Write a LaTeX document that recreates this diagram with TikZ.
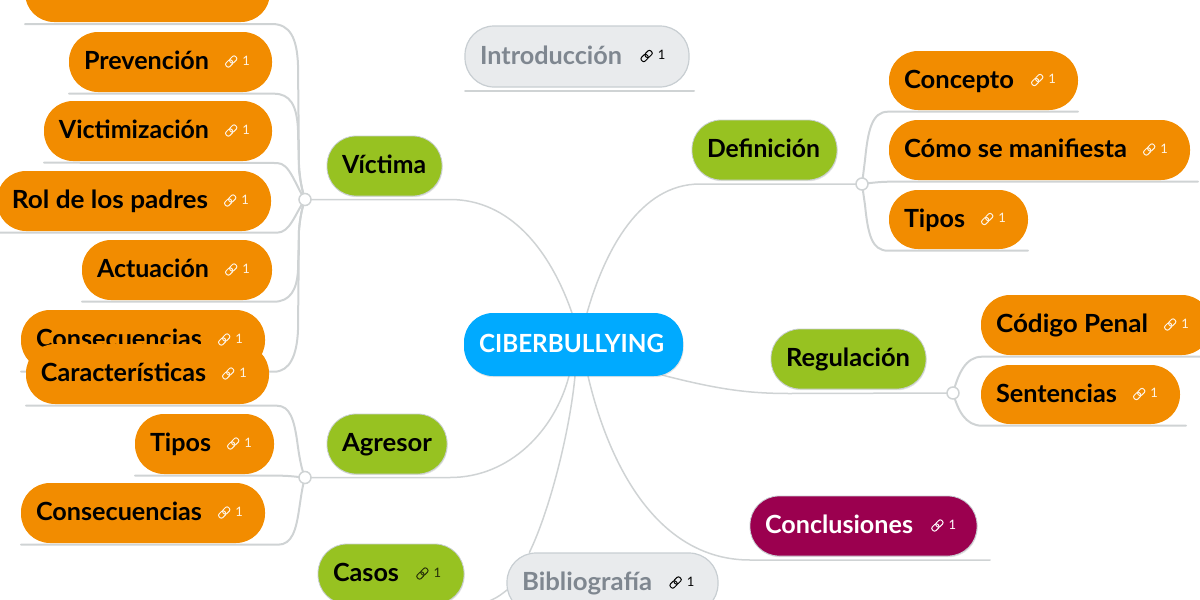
\documentclass[tikz,border=0pt]{standalone}
\usepackage{fontspec}
\usepackage{graphicx}
\setmainfont{Lato}
\usetikzlibrary{backgrounds,calc,shadows}
\definecolor{cOrange}{HTML}{F28C00}
\definecolor{cGreen}{HTML}{97C221}
\definecolor{cMaroon}{HTML}{9B004F}
\definecolor{cBlue}{HTML}{00AAFF}
\definecolor{cGrey}{HTML}{E9EBED}
\definecolor{cGreyText}{HTML}{7F8790}
\definecolor{cLine}{HTML}{CFD3D4}
\definecolor{cEdge}{HTML}{C8CED2}
\tikzset{
  x=1pt,y=-1pt,
  softshadow/.style={drop shadow={opacity=.22,shadow xshift=0.6pt,shadow yshift=-1.2pt}},
  pill/.style={rectangle,rounded corners=29pt,inner sep=0pt,font=\fontsize{25}{28}\selectfont\bfseries},
  orange/.style={pill,fill=cOrange,text=black},
  green/.style={pill,softshadow,fill=cGreen,text=black,draw=cEdge,line width=.8pt},
  maroon/.style={pill,softshadow,fill=cMaroon,text=white,draw=cEdge,line width=.8pt},
  blue/.style={pill,softshadow,fill=cBlue,text=white},
  grey/.style={pill,fill=cGrey,text=cGreyText,draw=cEdge,line width=1.2pt},
  conn/.style={draw=cLine,line width=2pt,line cap=round,line join=round},
  trunk/.style={conn,line width=1.5pt},
  hub/.style={circle,fill=white,draw=cLine,line width=1.5pt,minimum size=12pt,inner sep=0pt},
  linkglyph/.style={line width=1pt,rounded corners=2pt},
  count/.style={inner sep=0pt,font=\fontsize{13}{15}\selectfont},
}
% name, x0, y0, x1, y1, style, text width, text
\newcommand{\pillnode}[8]{%
  \pgfmathsetmacro{\pw}{#4-(#2)}\pgfmathsetmacro{\ph}{#5-(#3)}%
  \pgfmathsetmacro{\cx}{(#2+#4)/2}\pgfmathsetmacro{\cy}{(#3+#5)/2}%
  \pgfmathsetmacro{\tw}{\pw-30}%
  \node[#6,minimum width=\pw pt,minimum height=\ph pt] (#1) at (\cx,\cy)
    {\makebox[\tw pt][l]{\rule[-7pt]{0pt}{24pt}\smash{\raisebox{-2.7pt}{\resizebox{#7pt}{\height}{#8}}}}};%
  \coordinate (#1-a) at (#2,#5+1.7);%
  \coordinate (#1-b) at (#4,#5+1.7);%
}
% pill name, colour, offset of the mark from the pill's right edge
\newcommand{\linkmark}[3]{%
  \begin{scope}[shift={($(#1.east)+(#3,-0.5)$)}]
    \begin{scope}[rotate=45]
      \draw[linkglyph,draw=#2] (-6.6,-2.6) rectangle (1,2.6);
      \draw[linkglyph,draw=#2] (-1,-2.6) rectangle (6.6,2.6);
    \end{scope}
    \node[count,text=#2] at (15,-1) {1};
  \end{scope}}
\begin{document}
\begin{tikzpicture}
\useasboundingbox (0,0) rectangle (1200,600);
\clip (0,0) rectangle (1200,600);
% left branch
\node[orange,minimum width=245pt,minimum height=60pt] (top) at (147.5,-8) {};
\coordinate (top-a) at (25,24);
\pillnode{prev}{69}{32}{272}{92}{orange}{125}{Prevención}
\pillnode{vict}{44}{101}{272}{161}{orange}{150}{Victimización}
\pillnode{rol}{-3}{171}{271}{231}{orange}{196}{Rol de los padres}
\pillnode{act}{82}{240}{272}{300}{orange}{112}{Actuación}
\pillnode{cons}{21}{310}{265}{370}{orange}{166}{Consecuencias}
\pillnode{car}{26}{344}{269}{404}{orange}{165}{Características}
\pillnode{tip}{135}{414}{274}{474}{orange}{61}{Tipos}
\pillnode{consb}{21}{483}{265}{543}{orange}{166}{Consecuencias}
\pillnode{victima}{327}{136}{442}{196}{green}{84}{Víctima}
\pillnode{agresor}{327}{414}{447}{474}{green}{90}{Agresor}
\pillnode{casos}{318}{544}{464}{604}{green}{66}{Casos}
% centre
\pillnode{main}{464}{313}{683}{376}{blue}{185}{CIBERBULLYING}
\pillnode{intro}{465}{26}{689}{87}{grey}{142}{Introducción}
\pillnode{biblio}{507}{553}{718}{613}{grey}{130}{Bibliografía}
% right branch
\pillnode{defi}{692}{120}{837}{180}{green}{113}{Definición}
\pillnode{conc}{889}{51}{1078}{110}{orange}{110}{Concepto}
\pillnode{como}{889}{120}{1190}{180}{orange}{223}{Cómo se manifiesta}
\pillnode{tipd}{889}{190}{1028}{249}{orange}{61}{Tipos}
\pillnode{regu}{771}{329}{926}{389}{green}{124}{Regulación}
\pillnode{cod}{981}{295}{1211}{355}{orange}{152}{Código Penal}
\pillnode{sent}{981}{365}{1180}{424}{orange}{121}{Sentencias}
\pillnode{concl}{750}{496}{977}{556}{maroon}{148}{Conclusiones}
% hubs
\node[hub] (hv) at (305,199.5) {};
\node[hub] (ha) at (305,477.5) {};
\node[hub] (hd) at (862,184) {};
\node[hub] (hr) at (953,393) {};
% link marks
\foreach \n in {prev,vict,rol,act,cons,car,tip,consb,conc,como,tipd,cod,sent}{\linkmark{\n}{white!90!cOrange}{-41}}
\linkmark{casos}{black!75!cGreen}{-42}
\linkmark{intro}{black}{-43}
\linkmark{biblio}{black}{-43}
\linkmark{concl}{white}{-40}
\begin{pgfonlayer}{background}
\coordinate (mTopL) at (572,313);
\coordinate (mTopR) at (587,313);
\coordinate (mBotL) at (569,376);
\coordinate (mBotC) at (575,376);
\coordinate (mBotR) at (588,376);
\coordinate (conclL) at (750,560);
\coordinate (conclR) at (990,560);
\coordinate (introL) at (465,91);
\coordinate (introR) at (694,91);
\draw[conn] (top-a) -- (272,24) .. controls (290,24) and (297,38) .. (298,65) -- (299,165) .. controls (300,180) and (302,190) .. (hv.center);
\draw[conn] (prev-a) -- (274,93.7) .. controls (290,93.7) and (297,105) .. (298,130) -- (299,170) .. controls (300,180) and (302,190) .. (hv.center);
\draw[conn] (vict-a) -- (277,163) .. controls (290,163) and (295,185) .. (hv.center);
\draw[conn] (rol-a) -- (277,232.7) .. controls (290,232.7) and (295,214) .. (hv.center);
\draw[conn] (act-a) -- (274,301.7) .. controls (290,301.7) and (297,290) .. (298,270) -- (299,230) .. controls (300,218) and (302,208) .. (hv.center);
\draw[conn] (cons-a) -- (274,371.7) .. controls (290,371.7) and (297,355) .. (298,330) -- (299,230) .. controls (300,218) and (302,208) .. (hv.center);
\draw[conn] (car-a) -- (277,405.7) .. controls (290,405.7) and (294,420) .. (297,440) .. controls (299,455) and (301,468) .. (ha.center);
\draw[conn] (tip-a) -- (280,475.7) .. controls (290,475.7) and (297,477) .. (ha.center);
\draw[conn] (consb-a) -- (278,544.7) .. controls (292,544.7) and (296,530) .. (299,510) .. controls (301,497) and (302,488) .. (ha.center);
\draw[trunk] (hv.center) -- (450,199.5) .. controls (510,199.5) and (550,250) .. (mTopL);
\draw[trunk] (ha.center) -- (450,477.5) .. controls (510,477.5) and (555,430) .. (mBotL);
\draw[trunk] (hd.center) -- (700,184) .. controls (640,184) and (605,250) .. (mTopR);
\draw[trunk] (hr.center) -- (790,393.5) .. controls (750,393.5) and (720,390) .. (662,375);
\draw[trunk] (mBotC) .. controls (570,430) and (550,510) .. ($(biblio.north west)+(23,0)$);
\draw[trunk] (mBotR) .. controls (610,470) and (660,560) .. (conclL) -- (conclR);
\draw[conn] (introL) -- (introR);
\draw[trunk] (507,590) .. controls (498,597) and (490,604) .. (casos-b);
\draw[conn] (conc-b) -- (888,111.7) .. controls (872,111.7) and (868,130) .. (865,160) -- (hd.center);
\draw[conn] (1198,181.7) -- (890,181.7) .. controls (880,181.7) and (870,183) .. (hd.center);
\draw[conn] (tipd-b) -- (888,250.7) .. controls (872,250.7) and (868,235) .. (865,205) -- (hd.center);
\draw[conn] (1200,356.7) -- (982,356.7) .. controls (965,356.7) and (958,375) .. (hr.center);
\draw[conn] (1186,425.7) -- (982,425.7) .. controls (965,425.7) and (958,410) .. (hr.center);
\end{pgfonlayer}
\end{tikzpicture}
\end{document}
